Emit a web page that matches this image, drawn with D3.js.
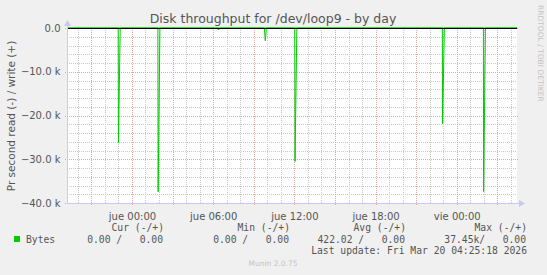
<!DOCTYPE html>
<html>
<head>
<meta charset="utf-8">
<script src="https://cdn.jsdelivr.net/npm/d3@7"></script>
<style>
  body { margin: 0; background: #f0f0f0; }
  svg { display: block; }
  text { white-space: pre; }
</style>
</head>
<body>
<div id="chart"></div>
<script>
// read series (drawn negative), sampled points
const readTimes = [
  '2026-03-18 19:12', '2026-03-18 22:59', '2026-03-18 23:00', '2026-03-18 23:08',
  '2026-03-19 01:55', '2026-03-19 01:56', '2026-03-19 02:04',
  '2026-03-19 06:22', '2026-03-19 06:23', '2026-03-19 06:31',
  '2026-03-19 09:47', '2026-03-19 09:51', '2026-03-19 09:56',
  '2026-03-19 12:02', '2026-03-19 12:03', '2026-03-19 12:11',
  '2026-03-19 22:56', '2026-03-19 22:57', '2026-03-19 23:05',
  '2026-03-20 01:58', '2026-03-20 01:59', '2026-03-20 02:07',
  '2026-03-20 04:27'
];
const readValues = [
  0, 0, -26200, 0,
  0, -37450, 0,
  0, -450, 0,
  0, -2900, 0,
  0, -30500, 0,
  0, -21900, 0,
  0, -37400, 0,
  0
];
const writeTimes = ['2026-03-18 19:12', '2026-03-20 04:27'];
const writeValues = [0, 0];

const yTicks = [0, -10000, -20000, -30000, -40000];
const legendHeaders = ['Cur (-/+)', 'Min (-/+)', 'Avg (-/+)', 'Max (-/+)'];
const legendValues = ['0.00 /   0.00', '0.00 /   0.00', '422.02 /   0.00', '37.45k/   0.00'];

const W = 547, H = 275;
const pLeft = 67, pRight = 517, pTop = 28, pBottom = 203;

const parse = d3.timeParse('%Y-%m-%d %H:%M');
const es = d3.timeFormatLocale({
  dateTime: '%x %X', date: '%d/%m/%Y', time: '%H:%M:%S', periods: ['AM', 'PM'],
  days: ['domingo', 'lunes', 'martes', 'miércoles', 'jueves', 'viernes', 'sábado'],
  shortDays: ['dom', 'lun', 'mar', 'mié', 'jue', 'vie', 'sáb'],
  months: ['enero', 'febrero', 'marzo', 'abril', 'mayo', 'junio', 'julio', 'agosto', 'septiembre', 'octubre', 'noviembre', 'diciembre'],
  shortMonths: ['ene', 'feb', 'mar', 'abr', 'may', 'jun', 'jul', 'ago', 'sep', 'oct', 'nov', 'dic']
});

const svg = d3.select('#chart').append('svg').attr('width', W).attr('height', H);
svg.append('rect').attr('width', W).attr('height', H).attr('fill', '#f0f0f0');
svg.append('rect').attr('x', pLeft).attr('y', pTop).attr('width', pRight - pLeft).attr('height', pBottom - pTop).attr('fill', '#fff');

const x = d3.scaleTime().domain([parse(readTimes[0]), parse(readTimes[readTimes.length - 1])]).range([pLeft, pRight]);
const y = d3.scaleLinear().domain([-40000, 0]).range([pBottom, pTop]);

// grid positions
const minorX = d3.timeHour.every(1).range(x.domain()[0], x.domain()[1]);
const majorX = d3.timeHour.every(3).range(x.domain()[0], x.domain()[1]);
const labelX = d3.timeHour.every(6).range(x.domain()[0], x.domain()[1]);
const minorY = d3.range(-40000, 1, 2000);

const grid = svg.append('g').attr('shape-rendering', 'crispEdges');
grid.selectAll('.mx').data(minorX).enter().append('line')
  .attr('x1', d => Math.round(x(d)) + 0.5).attr('x2', d => Math.round(x(d)) + 0.5)
  .attr('y1', pTop).attr('y2', pBottom)
  .attr('stroke', '#c8c8c8').attr('stroke-dasharray', '1,1');
grid.selectAll('.my').data(minorY).enter().append('line')
  .attr('x1', pLeft).attr('x2', pRight)
  .attr('y1', d => Math.round(y(d)) + 0.5).attr('y2', d => Math.round(y(d)) + 0.5)
  .attr('stroke', '#c8c8c8').attr('stroke-dasharray', '1,1');
grid.selectAll('.Mx').data(majorX).enter().append('line')
  .attr('x1', d => Math.round(x(d)) + 0.5).attr('x2', d => Math.round(x(d)) + 0.5)
  .attr('y1', pTop).attr('y2', pBottom + 2)
  .attr('stroke', '#eba3a3').attr('stroke-dasharray', '1,1');
grid.selectAll('.My').data(yTicks).enter().append('line')
  .attr('x1', pLeft - 2).attr('x2', pRight + 2)
  .attr('y1', d => Math.round(y(d)) + 0.5).attr('y2', d => Math.round(y(d)) + 0.5)
  .attr('stroke', '#eba3a3').attr('stroke-dasharray', '1,1');

// series
const line = d3.line().x(d => x(d[0])).y(d => y(d[1]));
const readData = readTimes.map((t, i) => [parse(t), readValues[i]]);
const writeData = writeTimes.map((t, i) => [parse(t), writeValues[i]]);
svg.append('path').datum(readData).attr('d', line)
  .attr('fill', 'none').attr('stroke', '#00cc00').attr('stroke-width', 1);
svg.append('path').datum(writeData).attr('d', line)
  .attr('fill', 'none').attr('stroke', '#00cc00').attr('stroke-width', 1);

// zero line
svg.append('line').attr('x1', pLeft).attr('x2', pRight)
  .attr('y1', Math.round(y(0)) + 0.5).attr('y2', Math.round(y(0)) + 0.5)
  .attr('stroke', '#000').attr('shape-rendering', 'crispEdges');

// axes
const axisColor = '#c8c8f0';
const yAxis = svg.append('g').attr('transform', `translate(${pLeft + 0.5},0)`)
  .call(d3.axisLeft(y).tickValues(yTicks).tickSize(0).tickPadding(7)
    .tickFormat(d => d === 0 ? '0.0' : d3.format('.1f')(d / 1000) + ' k'));
yAxis.select('.domain').attr('stroke', axisColor).attr('d', `M0,${pBottom}V${pTop - 4}`);
yAxis.selectAll('text').attr('fill', '#555').attr('font-family', 'DejaVu Sans').attr('font-size', 10);

const xAxis = svg.append('g').attr('transform', `translate(0,${pBottom + 0.5})`)
  .call(d3.axisBottom(x).tickValues(labelX).tickSize(0).tickPadding(9)
    .tickFormat(es.format('%a %H:%M')));
xAxis.select('.domain').attr('stroke', axisColor).attr('d', `M${pLeft},0H${pRight + 3}`);
xAxis.selectAll('text').attr('fill', '#555').attr('font-family', 'DejaVu Sans').attr('font-size', 10);

// arrows
svg.append('path').attr('d', `M${pLeft - 3},${pTop - 2}L${pLeft + 0.5},${pTop - 8}L${pLeft + 4},${pTop - 2}Z`).attr('fill', axisColor);
svg.append('path').attr('d', `M${pRight + 2},${pBottom - 3}L${pRight + 8},${pBottom + 0.5}L${pRight + 2},${pBottom + 4}Z`).attr('fill', axisColor);

// title & labels
svg.append('text').attr('x', 273).attr('y', 23).attr('text-anchor', 'middle')
  .attr('font-family', 'DejaVu Sans').attr('font-size', 12.5).attr('fill', '#555')
  .text('Disk throughput for /dev/loop9 - by day');
svg.append('text').attr('transform', 'translate(15,116) rotate(-90)').attr('text-anchor', 'middle')
  .attr('font-family', 'DejaVu Sans').attr('font-size', 10.5).attr('fill', '#555')
  .text('Pr second read (-) / write (+)');
svg.append('text').attr('transform', 'translate(538,5) rotate(90)').attr('text-anchor', 'start')
  .attr('font-family', 'DejaVu Sans').attr('font-size', 7.5).attr('fill', '#c4c4c4')
  .text('RRDTOOL / TOBI OETIKER');

// legend
const mono = 'DejaVu Sans Mono';
const legendRight = [164, 290, 406, 527];
svg.selectAll('.lh').data(legendHeaders).enter().append('text')
  .attr('x', (d, i) => legendRight[i]).attr('y', 231).attr('text-anchor', 'end')
  .attr('font-family', mono).attr('font-size', 9.7).attr('fill', '#555').text(d => d);
svg.selectAll('.lv').data(legendValues).enter().append('text')
  .attr('x', (d, i) => legendRight[i] - 1).attr('y', 243).attr('text-anchor', 'end')
  .attr('font-family', mono).attr('font-size', 9.7).attr('fill', '#555').text(d => d);
svg.append('rect').attr('x', 14).attr('y', 236).attr('width', 6).attr('height', 6).attr('fill', '#00cc00');
svg.append('text').attr('x', 26).attr('y', 243)
  .attr('font-family', mono).attr('font-size', 9.7).attr('fill', '#555').text('Bytes');
svg.append('text').attr('x', 527).attr('y', 254).attr('text-anchor', 'end')
  .attr('font-family', mono).attr('font-size', 9.7).attr('fill', '#555')
  .text('Last update: Fri Mar 20 04:25:18 2026');
svg.append('text').attr('x', 273).attr('y', 266).attr('text-anchor', 'middle')
  .attr('font-family', 'DejaVu Sans').attr('font-size', 7.5).attr('fill', '#c4c4c4')
  .text('Munin 2.0.75');
</script>
</body>
</html>
